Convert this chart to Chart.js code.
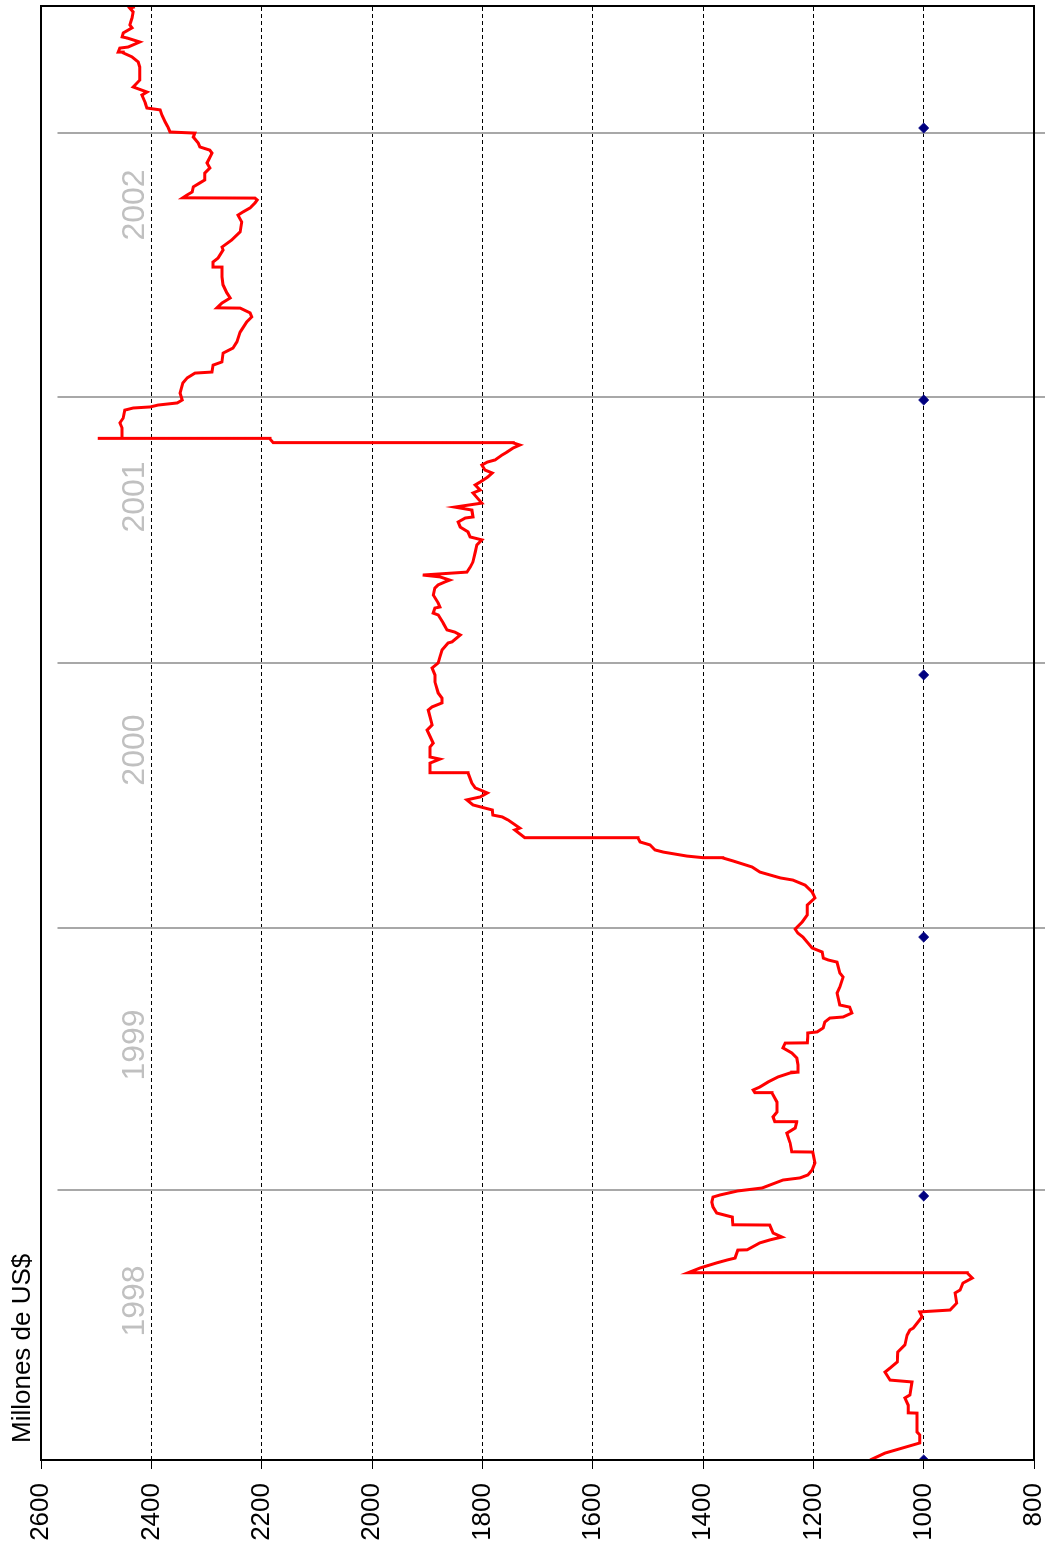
<!DOCTYPE html>
<html>
<head>
<meta charset="utf-8">
<title>Reservas</title>
<script src="https://cdn.jsdelivr.net/npm/chart.js@4.4.0/dist/chart.umd.min.js"></script>
<style>
  html, body { margin: 0; padding: 0; background: #fff; overflow: hidden; }
  /* the chart is drawn upright and then turned a quarter turn */
  #girado {
    position: absolute; left: 0; top: 0;
    width: 1555px; height: 1045px;
    transform-origin: 0 0;
    transform: translate(0, 1555px) rotate(-90deg);
  }
</style>
</head>
<body>
<div id="girado"><canvas id="grafico" width="1555" height="1045"></canvas></div>
<script>
// Fechas en años decimales, valores en millones de US$
const fechas = [
  1998.000, 1998.026, 1998.064, 1998.094, 1998.105, 1998.176, 1998.177, 1998.206, 1998.233, 1998.244,
  1998.293, 1998.300, 1998.330, 1998.345, 1998.368, 1998.405, 1998.432, 1998.469, 1998.488, 1998.495,
  1998.537, 1998.556, 1998.563, 1998.589, 1998.627, 1998.638, 1998.664, 1998.683, 1998.702, 1998.703,
  1998.721, 1998.740, 1998.751, 1998.758, 1998.788, 1998.789, 1998.815, 1998.826, 1998.837, 1998.852,
  1998.882, 1998.883, 1998.912, 1998.927, 1998.950, 1998.968, 1998.987, 1998.995, 1999.010, 1999.021,
  1999.032, 1999.051, 1999.059, 1999.070, 1999.089, 1999.115, 1999.156, 1999.157, 1999.190, 1999.227,
  1999.246, 1999.269, 1999.270, 1999.288, 1999.306, 1999.344, 1999.378, 1999.379, 1999.389, 1999.400,
  1999.419, 1999.438, 1999.453, 1999.456, 1999.483, 1999.509, 1999.528, 1999.547, 1999.565, 1999.566,
  1999.588, 1999.603, 1999.607, 1999.622, 1999.644, 1999.659, 1999.663, 1999.678, 1999.700, 1999.708,
  1999.753, 1999.776, 1999.813, 1999.828, 1999.869, 1999.877, 1999.884, 1999.907, 1999.922, 1999.941,
  1999.963, 1999.978, 1999.993, 2000.020, 2000.046, 2000.083, 2000.110, 2000.132, 2000.158, 2000.177,
  2000.185, 2000.207, 2000.226, 2000.249, 2000.260, 2000.261, 2000.267, 2000.282, 2000.290, 2000.309,
  2000.320, 2000.335, 2000.336, 2000.365, 2000.372, 2000.402, 2000.414, 2000.421, 2000.440, 2000.459,
  2000.478, 2000.489, 2000.504, 2000.523, 2000.541, 2000.579, 2000.580, 2000.616, 2000.631, 2000.639,
  2000.676, 2000.691, 2000.740, 2000.759, 2000.815, 2000.827, 2000.842, 2000.860, 2000.879, 2000.921,
  2000.947, 2000.973, 2000.992, 2001.014, 2001.041, 2001.067, 2001.071, 2001.097, 2001.108, 2001.116,
  2001.142, 2001.172, 2001.179, 2001.198, 2001.202, 2001.217, 2001.247, 2001.273, 2001.285, 2001.296,
  2001.303, 2001.315, 2001.322, 2001.333, 2001.352, 2001.371, 2001.408, 2001.435, 2001.454, 2001.465,
  2001.484, 2001.502, 2001.521, 2001.536, 2001.540, 2001.566, 2001.577, 2001.592, 2001.630, 2001.641,
  2001.660, 2001.671, 2001.690, 2001.705, 2001.716, 2001.735, 2001.746, 2001.754, 2001.773, 2001.784,
  2001.799, 2001.810, 2001.818, 2001.819, 2001.833, 2001.834, 2001.836, 2001.874, 2001.893, 2001.911,
  2001.941, 2001.949, 2001.953, 2001.960, 2001.968, 2001.979, 2002.005, 2002.043, 2002.062, 2002.080,
  2002.084, 2002.110, 2002.122, 2002.155, 2002.174, 2002.197, 2002.234, 2002.272, 2002.291, 2002.306,
  2002.324, 2002.325, 2002.343, 2002.362, 2002.381, 2002.411, 2002.441, 2002.475, 2002.478, 2002.497,
  2002.512, 2002.542, 2002.553, 2002.580, 2002.610, 2002.647, 2002.673, 2002.685, 2002.700, 2002.719,
  2002.730, 2002.737, 2002.738, 2002.749, 2002.760, 2002.779, 2002.794, 2002.805, 2002.831, 2002.850,
  2002.869, 2002.906, 2002.917, 2002.929, 2002.944, 2002.966, 2002.981, 2002.985, 2003.004, 2003.023,
  2003.049, 2003.068, 2003.075, 2003.094, 2003.124, 2003.135, 2003.154, 2003.169, 2003.180, 2003.229,
  2003.248, 2003.267, 2003.282, 2003.285, 2003.300, 2003.304, 2003.323, 2003.338, 2003.342, 2003.357,
  2003.376, 2003.387, 2003.413, 2003.436, 2003.450, 2003.455
];

const reservas = [
  1097, 1070, 1007, 1007, 1012, 1012, 1028, 1028, 1034, 1025,
  1021, 1061, 1070, 1061, 1048, 1047, 1034, 1030, 1025, 1019,
  1003, 1007, 952, 940, 943, 934, 929, 912, 921, 1427,
  1405, 1375, 1356, 1342, 1337, 1320, 1297, 1279, 1257, 1273,
  1279, 1346, 1347, 1375, 1382, 1384, 1382, 1369, 1337, 1293,
  1279, 1255, 1224, 1210, 1202, 1197, 1201, 1239, 1242, 1248,
  1233, 1230, 1270, 1273, 1266, 1266, 1275, 1306, 1309, 1297,
  1282, 1264, 1242, 1228, 1228, 1230, 1239, 1255, 1251, 1211,
  1210, 1210, 1193, 1182, 1179, 1170, 1146, 1130, 1134, 1152,
  1157, 1152, 1146, 1152, 1157, 1173, 1182, 1184, 1202, 1210,
  1219, 1228, 1233, 1220, 1211, 1211, 1197, 1202, 1215, 1237,
  1260, 1297, 1311, 1346, 1364, 1400, 1429, 1472, 1487, 1496,
  1514, 1518, 1723, 1741, 1732, 1753, 1764, 1781, 1782, 1817,
  1828, 1804, 1791, 1813, 1819, 1826, 1895, 1895, 1877, 1895,
  1895, 1889, 1900, 1891, 1898, 1891, 1873, 1873, 1880, 1886,
  1886, 1891, 1880, 1877, 1873, 1862, 1855, 1840, 1850, 1864,
  1871, 1880, 1889, 1886, 1877, 1880, 1889, 1886, 1880, 1868,
  1859, 1877, 1908, 1828, 1822, 1817, 1813, 1810, 1801, 1822,
  1826, 1840, 1844, 1831, 1817, 1819, 1850, 1801, 1817, 1804,
  1813, 1804, 1790, 1782, 1795, 1801, 1791, 1777, 1764, 1755,
  1744, 1732, 1744, 2179, 2185, 2497, 2453, 2453, 2457, 2451,
  2448, 2433, 2402, 2388, 2353, 2344, 2348, 2343, 2335, 2321,
  2290, 2288, 2272, 2270, 2252, 2245, 2239, 2227, 2218, 2221,
  2239, 2281, 2272, 2257, 2263, 2270, 2272, 2272, 2288, 2288,
  2279, 2270, 2272, 2254, 2239, 2236, 2243, 2234, 2221, 2212,
  2208, 2212, 2343, 2335, 2326, 2324, 2312, 2303, 2303, 2294,
  2299, 2290, 2294, 2312, 2315, 2324, 2321, 2366, 2370, 2375,
  2381, 2384, 2408, 2411, 2417, 2408, 2433, 2426, 2421, 2421,
  2424, 2435, 2451, 2460, 2457, 2442, 2421, 2444, 2453, 2451,
  2435, 2439, 2435, 2433, 2439, 2430
];

// marcas de inicio de año (rombos azules)
const fechasMarca = [1998.000, 1998.991, 1999.963, 2000.947, 2001.979, 2003.000];
const valoresMarca = [1000, 1000, 1000, 1000, 1000, 1000];

// etiquetas de año y líneas divisorias
const anios = ['1998', '1999', '2000', '2001', '2002'];
const posAnios = [1998.597, 1999.558, 2000.665, 2001.615, 2002.711];
const cortesAnio = [1999.014, 1999.997, 2000.992, 2001.990, 2002.981];

const ticksValor = [800, 1000, 1200, 1400, 1600, 1800, 2000, 2200, 2400, 2600];
const tituloEje = 'Millones de US$';

const FUENTE = '"Liberation Sans", Arial, sans-serif';

const adornos = {
  id: 'adornos',
  beforeDatasetsDraw(chart) {
    const { ctx, scales: { x, y } } = chart;
    ctx.save();
    // year separators
    ctx.strokeStyle = '#A8A8A8';
    ctx.lineWidth = 2;
    cortesAnio.forEach(t => {
      const px = Math.round(x.getPixelForValue(t));
      ctx.beginPath();
      ctx.moveTo(px, y.getPixelForValue(2570));
      ctx.lineTo(px, chart.height);
      ctx.stroke();
    });
    // year labels
    ctx.fillStyle = '#C0C0C0';
    ctx.font = '32px ' + FUENTE;
    ctx.textAlign = 'center';
    ctx.textBaseline = 'middle';
    anios.forEach((a, i) => {
      ctx.fillText(a, x.getPixelForValue(posAnios[i]), y.getPixelForValue(2430));
    });
    ctx.restore();
  },
  afterDraw(chart) {
    const { ctx, chartArea: a } = chart;
    ctx.save();
    ctx.strokeStyle = '#000';
    ctx.lineWidth = 2;
    ctx.strokeRect(a.left, a.top, a.right - a.left, a.bottom - a.top);
    ctx.fillStyle = '#000';
    ctx.font = '26px ' + FUENTE;
    ctx.textAlign = 'left';
    ctx.textBaseline = 'middle';
    ctx.fillText(tituloEje, a.left + 17, 23);
    ctx.restore();
  }
};

new Chart(document.getElementById('grafico'), {
  type: 'line',
  data: {
    datasets: [
      {
        label: 'Reservas',
        data: fechas.map((f, i) => ({ x: f, y: reservas[i] })),
        borderColor: '#FF0000',
        borderWidth: 3,
        pointRadius: 0,
        tension: 0,
        fill: false
      },
      {
        label: 'Inicio de año',
        data: fechasMarca.map((f, i) => ({ x: f, y: valoresMarca[i] })),
        showLine: false,
        pointStyle: 'rectRot',
        pointRadius: 5,
        pointBackgroundColor: '#000080',
        pointBorderColor: '#000080',
        pointBorderWidth: 1
      }
    ]
  },
  options: {
    responsive: false,
    animation: false,
    devicePixelRatio: 1,
    layout: { padding: { top: 41, right: 5, bottom: 11, left: 0 } },
    scales: {
      x: {
        type: 'linear',
        min: 1998,
        max: 2003.458,
        display: false
      },
      y: {
        min: 800,
        max: 2600,
        afterFit: function(scale) {
          scale.width = 95;
          scale.paddingTop = 0;
          scale.paddingBottom = 0;
        },
        afterBuildTicks: function(scale) {
          scale.ticks = ticksValor.map(v => ({ value: v }));
        },
        ticks: {
          color: '#000',
          font: { family: FUENTE, size: 26 },
          padding: 14,
          callback: function(value) { return String(value); }
        },
        grid: {
          color: '#000',
          lineWidth: 1,
          tickLength: 9,
          tickColor: '#000',
          tickBorderDash: []
        },
        border: { display: false, dash: [4, 3] }
      }
    },
    plugins: {
      legend: { display: false },
      tooltip: { enabled: false }
    }
  },
  plugins: [adornos]
});
</script>
</body>
</html>
